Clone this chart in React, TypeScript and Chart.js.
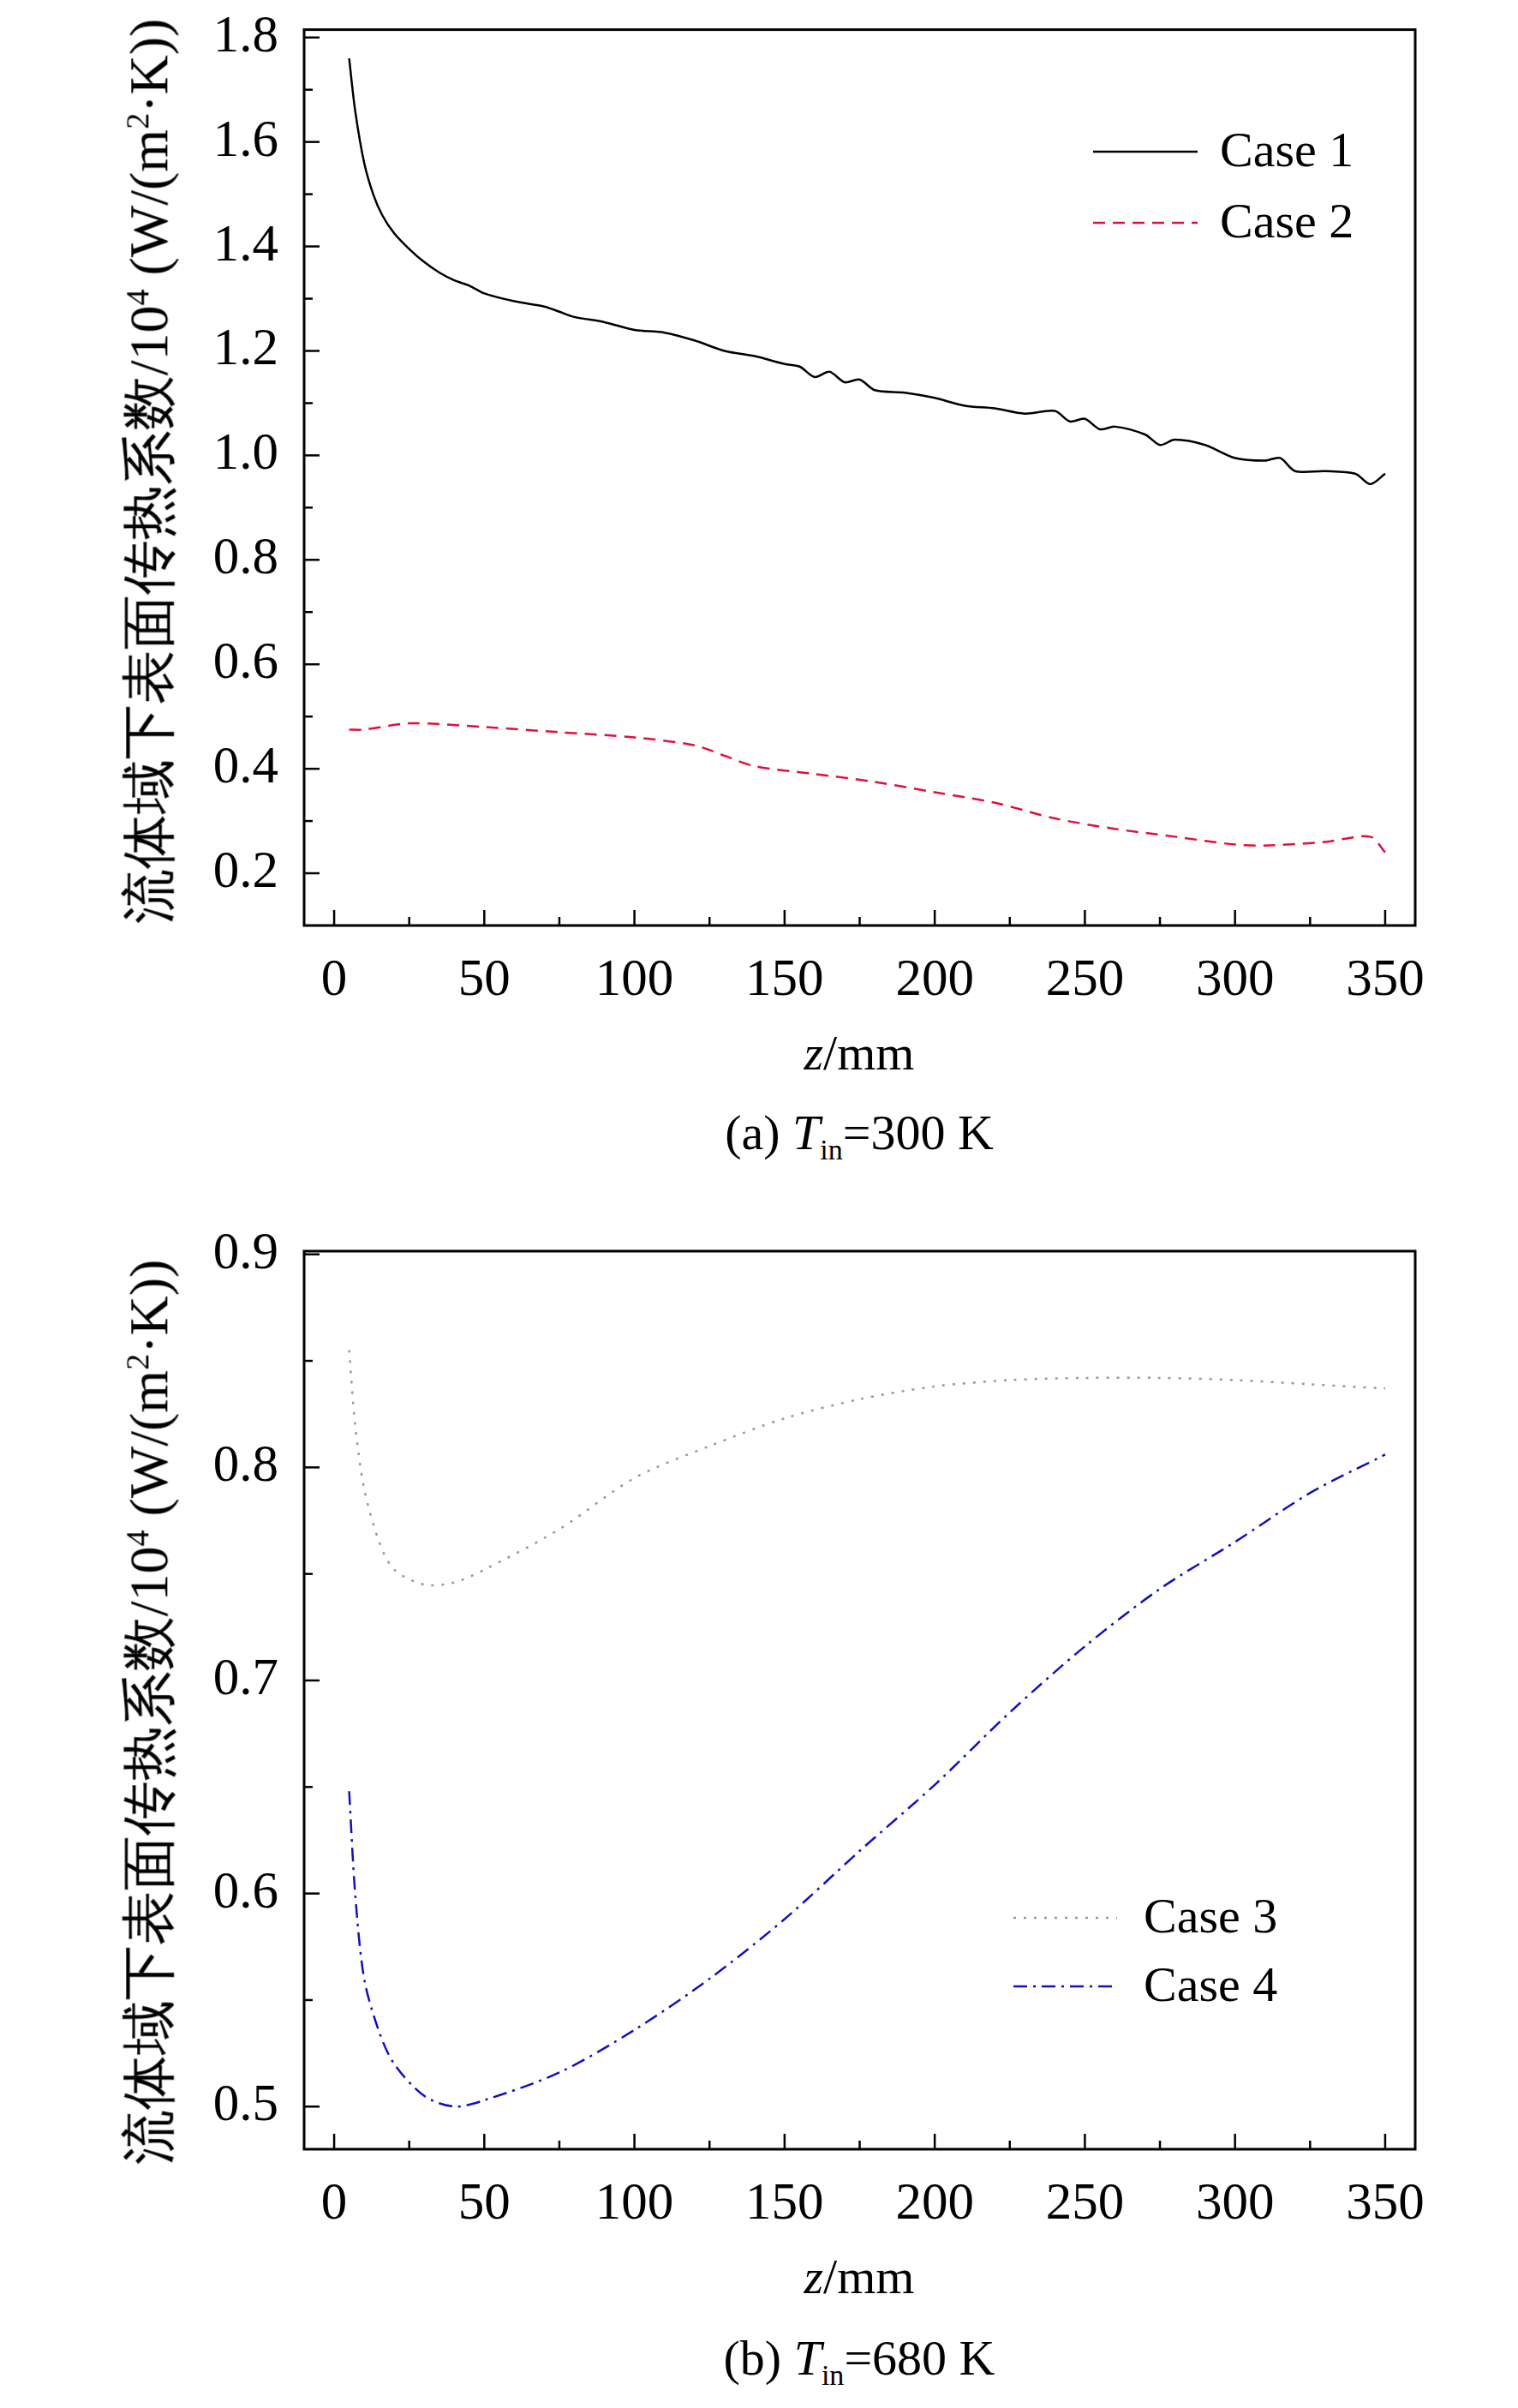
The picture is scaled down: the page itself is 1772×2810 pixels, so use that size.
import React, { useEffect, useRef } from "react";
import { Chart, registerables } from "chart.js";
Chart.register(...registerables);

const xTickValues = [0, 50, 100, 150, 200, 250, 300, 350];
const xMinorValues = [25, 75, 125, 175, 225, 275, 325];

const case1X = [5, 7, 10, 13, 16, 20, 25, 30, 35, 40, 45, 50, 60, 70, 75, 80, 90, 100, 110, 120, 130, 140, 150, 155, 160, 165, 170, 175, 180, 190, 200, 210, 220, 230, 240, 245, 250, 255, 260, 270, 275, 280, 290, 300, 310, 315, 320, 330, 340, 345, 350];
const case1Y = [1.76, 1.66, 1.56, 1.5, 1.46, 1.425, 1.395, 1.37, 1.35, 1.335, 1.325, 1.31, 1.295, 1.285, 1.275, 1.265, 1.255, 1.24, 1.235, 1.22, 1.2, 1.19, 1.175, 1.17, 1.15, 1.16, 1.14, 1.145, 1.125, 1.12, 1.11, 1.095, 1.09, 1.08, 1.085, 1.065, 1.07, 1.05, 1.055, 1.04, 1.02, 1.03, 1.02, 0.995, 0.99, 0.995, 0.97, 0.97, 0.965, 0.945, 0.965];

const case2X = [5, 10, 25, 50, 75, 100, 120, 130, 140, 160, 180, 200, 220, 240, 260, 280, 300, 310, 330, 345, 350];
const case2Y = [0.475, 0.475, 0.487, 0.48, 0.47, 0.46, 0.445, 0.425, 0.405, 0.39, 0.375, 0.355, 0.335, 0.305, 0.285, 0.27, 0.255, 0.253, 0.26, 0.27, 0.24];

const case3X = [5, 7, 10, 15, 20, 30, 40, 50, 75, 100, 125, 150, 175, 200, 225, 250, 275, 300, 325, 350];
const case3Y = [0.855, 0.82, 0.79, 0.765, 0.752, 0.745, 0.746, 0.752, 0.771, 0.795, 0.81, 0.823, 0.832, 0.838, 0.841, 0.842, 0.842, 0.841, 0.839, 0.837];

const case4X = [5, 7, 10, 15, 20, 30, 40, 50, 75, 100, 125, 150, 175, 200, 225, 250, 275, 300, 325, 350];
const case4Y = [0.648, 0.6, 0.56, 0.535, 0.52, 0.505, 0.5, 0.503, 0.516, 0.536, 0.56, 0.588, 0.62, 0.651, 0.685, 0.716, 0.743, 0.765, 0.788, 0.806];

const topYTicks = [0.2, 0.4, 0.6, 0.8, 1.0, 1.2, 1.4, 1.6, 1.8];
const topYMinor = [0.3, 0.5, 0.7, 0.9, 1.1, 1.3, 1.5, 1.7];
const botYTicks = [0.5, 0.6, 0.7, 0.8, 0.9];
const botYMinor = [0.55, 0.65, 0.75, 0.85];

const FONT = "'Liberation Serif', 'Times New Roman', serif";

type Series = { label: string; xs: number[]; ys: number[]; color: string; dash: number[] };
type Cfg = {
  series: Series[]; yMin: number; yMax: number; yTicks: number[]; yMinor: number[];
  decimals: number; padTop: number; padBottom: number; height: number;
  legend: { x1: number; x2: number; tx: number; ys: number[] };
};

function ChartBox({ cfg, top }: { cfg: Cfg; top: number }) {
  const ref = useRef<HTMLCanvasElement>(null);
  useEffect(() => {
    const plugin = {
      id: "frame",
      afterDraw(chart: any) {
        const { ctx, chartArea: a } = chart;
        const xs = chart.scales.x, ys = chart.scales.y;
        ctx.save();
        ctx.strokeStyle = "#000";
        ctx.lineWidth = 3;
        ctx.setLineDash([]);
        ctx.strokeRect(a.left, a.top, a.right - a.left, a.bottom - a.top);
        ctx.lineWidth = 2.5;
        const tk = (v: number, len: number, isX: boolean) => {
          ctx.beginPath();
          if (isX) { const p = xs.getPixelForValue(v); ctx.moveTo(p, a.bottom); ctx.lineTo(p, a.bottom - len); }
          else { const p = ys.getPixelForValue(v); ctx.moveTo(a.left, p); ctx.lineTo(a.left + len, p); }
          ctx.stroke();
        };
        xTickValues.forEach(v => tk(v, 18, true));
        xMinorValues.forEach(v => tk(v, 10, true));
        cfg.yTicks.forEach(v => tk(v, 18, false));
        cfg.yMinor.forEach(v => tk(v, 10, false));
        ctx.font = `58px ${FONT}`;
        ctx.textBaseline = "middle";
        cfg.series.forEach((s, i) => {
          const y = cfg.legend.ys[i] - top;
          ctx.strokeStyle = s.color;
          ctx.lineWidth = 2.5;
          ctx.setLineDash(s.dash);
          ctx.beginPath(); ctx.moveTo(cfg.legend.x1, y); ctx.lineTo(cfg.legend.x2, y); ctx.stroke();
          ctx.setLineDash([]);
          ctx.fillStyle = "#000";
          ctx.fillText(s.label, cfg.legend.tx, y + 2);
        });
        ctx.restore();
      },
    };
    const chart = new Chart(ref.current!, {
      type: "line",
      data: {
        datasets: cfg.series.map(s => ({
          label: s.label,
          data: s.xs.map((x, i) => ({ x, y: s.ys[i] })),
          borderColor: s.color, borderDash: s.dash, borderWidth: 2.5,
          pointRadius: 0, tension: 0.3, fill: false,
        })),
      },
      options: {
        animation: false, responsive: false,
        layout: { padding: { left: 0, right: 120, top: cfg.padTop, bottom: cfg.padBottom } },
        plugins: { legend: { display: false }, tooltip: { enabled: false } },
        scales: {
          x: {
            type: "linear", min: -10, max: 360,
            grid: { display: false }, border: { display: false },
            afterBuildTicks: (sc: any) => { sc.ticks = xTickValues.map(v => ({ value: v })); },
            afterFit: (sc: any) => { sc.height = 150; },
            ticks: { color: "#000", font: { family: FONT, size: 61 }, padding: 20, maxRotation: 0 },
          },
          y: {
            type: "linear", min: cfg.yMin, max: cfg.yMax,
            grid: { display: false }, border: { display: false },
            afterBuildTicks: (sc: any) => { sc.ticks = cfg.yTicks.map(v => ({ value: v })); },
            afterFit: (sc: any) => { sc.width = 355; },
            ticks: { color: "#000", font: { family: FONT, size: 61 }, padding: 22, callback: (v: any) => Number(v).toFixed(cfg.decimals) },
          },
        },
      },
      plugins: [plugin],
    } as any);
    return () => chart.destroy();
  }, []);
  return <canvas ref={ref} width={1772} height={cfg.height} style={{ position: "absolute", left: 0, top, width: 1772, height: cfg.height }} />;
}

const topCfg: Cfg = {
  series: [
    { label: "Case 1", xs: case1X, ys: case1Y, color: "#000000", dash: [] },
    { label: "Case 2", xs: case2X, ys: case2Y, color: "#e0103c", dash: [14, 9] },
  ],
  yMin: 0.1, yMax: 1.815, yTicks: topYTicks, yMinor: topYMinor, decimals: 1,
  padTop: 30, padBottom: 20, height: 1274,
  legend: { x1: 1276, x2: 1398, tx: 1424, ys: [177, 260] },
};
const botCfg: Cfg = {
  series: [
    { label: "Case 3", xs: case3X, ys: case3Y, color: "#999999", dash: [3, 9] },
    { label: "Case 4", xs: case4X, ys: case4Y, color: "#1010c0", dash: [16, 7, 3, 7] },
  ],
  yMin: 0.48, yMax: 0.9015, yTicks: botYTicks, yMinor: botYMinor, decimals: 1,
  padTop: 60, padBottom: 42, height: 1300,
  legend: { x1: 1183, x2: 1304, tx: 1335, ys: [2238, 2318] },
};

const txt: React.CSSProperties = { position: "absolute", fontFamily: FONT, fontSize: 58, color: "#000", whiteSpace: "nowrap", lineHeight: 1 };

function YTitle({ cy }: { cy: number }) {
  return (
    <div style={{ ...txt, fontSize: 64, left: 174, top: cy, transform: "translate(-50%,-50%) rotate(-90deg)" }}>
      流体域下表面传热系数/10<sup style={{ fontSize: 38 }}>4</sup> (W/(m<sup style={{ fontSize: 38 }}>2</sup>·K))
    </div>
  );
}
function Caption({ label, t, cy }: { label: string; t: string; cy: number }) {
  return (
    <div style={{ ...txt, left: 1003, top: cy, transform: "translate(-50%,-50%)" }}>
      {label} <i>T</i><sub style={{ fontSize: 34 }}>in</sub>={t} K
    </div>
  );
}

export default function App() {
  return (
    <div style={{ position: "relative", width: 1772, height: 2810, background: "#fff", margin: -8, overflow: "hidden" }}>
      <ChartBox cfg={topCfg} top={-24} />
      <ChartBox cfg={botCfg} top={1400} />
      <YTitle cy={550} />
      <YTitle cy={1998} />
      <div style={{ ...txt, left: 1003, top: 1229, transform: "translate(-50%,-50%)" }}><i>z</i>/mm</div>
      <div style={{ ...txt, left: 1003, top: 2657, transform: "translate(-50%,-50%)" }}><i>z</i>/mm</div>
      <Caption label="(a)" t="300" cy={1326} />
      <Caption label="(b)" t="680" cy={2756} />
    </div>
  );
}
